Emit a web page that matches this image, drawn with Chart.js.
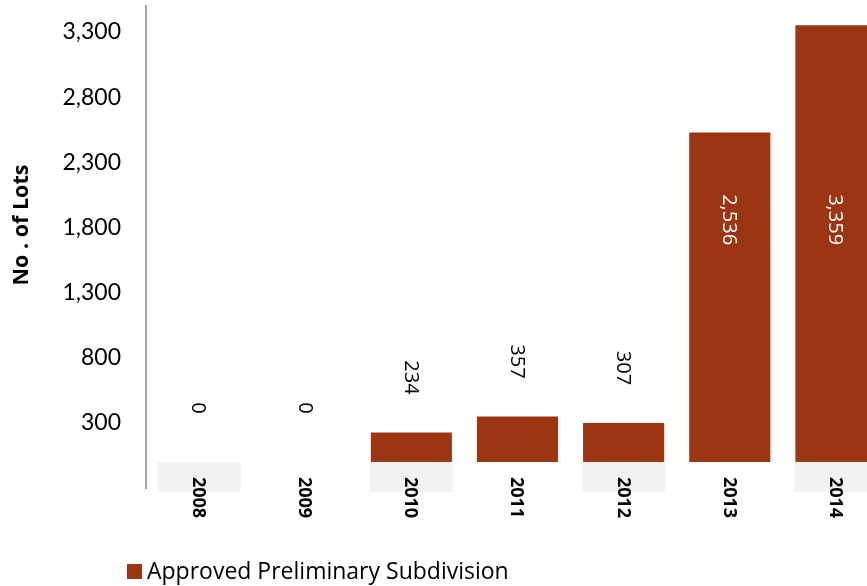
<!DOCTYPE html>
<html>
<head>
<meta charset="utf-8">
<script src="https://cdn.jsdelivr.net/npm/chart.js@4"></script>
<style>
  html, body { margin: 0; padding: 0; background: #fff; overflow: hidden; }
  #wrap { width: 867px; height: 586px; overflow: hidden; }
</style>
</head>
<body>
<div id="wrap"><canvas id="chart" width="889" height="586"></canvas></div>
<script>
const years = ['2008', '2009', '2010', '2011', '2012', '2013', '2014'];
const approvedLots = [0, 0, 234, 357, 307, 2536, 3359];
const yTickValues = [300, 800, 1300, 1800, 2300, 2800, 3300];

const seriesName = 'Approved Preliminary Subdivision';
const barColor = '#9c3512';
const tickFont = 'Lato, "Open Sans", sans-serif';
const textFont = '"Open Sans", Lato, sans-serif';

const fmt = v => v.toLocaleString('en-US');

// labels, shaded label cells, axis title and legend drawn on top of the chart
const decorations = {
  id: 'decorations',
  afterDraw(chart) {
    const ctx = chart.ctx;
    const x = chart.scales.x;
    const y = chart.scales.y;
    const meta = chart.getDatasetMeta(0);
    const base = y.getPixelForValue(0);

    ctx.save();
    // alternating grey cells behind the year labels
    meta.data.forEach((bar, i) => {
      if (i % 2 !== 0) return;
      const w = bar.width;
      ctx.fillStyle = '#f2f2f2';
      ctx.fillRect(bar.x - w / 2, base, w, 30);
    });

    // year labels, rotated clockwise
    ctx.font = 'bold 18px ' + textFont;
    ctx.fillStyle = '#000';
    ctx.textAlign = 'left';
    ctx.textBaseline = 'middle';
    years.forEach((yr, i) => {
      const cx = x.getPixelForValue(i);
      ctx.save();
      ctx.translate(cx, base + 15);
      ctx.rotate(Math.PI / 2);
      ctx.fillText(yr, 0, 1);
      ctx.restore();
    });

    // value labels, rotated clockwise
    ctx.font = '20px ' + textFont;
    ctx.textAlign = 'center';
    approvedLots.forEach((v, i) => {
      const bar = meta.data[i];
      let cy, color;
      if (v > 1000) {
        cy = y.getPixelForValue(1860);
        color = '#fff';
      } else {
        cy = bar.y - 54;
        color = '#000';
      }
      ctx.save();
      ctx.translate(bar.x, cy);
      ctx.rotate(Math.PI / 2);
      ctx.fillStyle = color;
      ctx.fillText(fmt(v), 0, 1);
      ctx.restore();
    });

    // y axis title
    ctx.save();
    ctx.font = 'bold 21.5px ' + textFont;
    ctx.fillStyle = '#000';
    ctx.translate(22, 225);
    ctx.rotate(-Math.PI / 2);
    ctx.fillText('No . of Lots', 0, 0);
    ctx.restore();

    // legend
    ctx.fillStyle = barColor;
    ctx.fillRect(127, 564, 15, 15);
    ctx.font = '23px ' + textFont;
    ctx.fillStyle = '#000';
    ctx.textAlign = 'left';
    ctx.fillText(chart.data.datasets[0].label, 147, 572);
    ctx.restore();
  }
};

new Chart(document.getElementById('chart'), {
  type: 'bar',
  data: {
    labels: years,
    datasets: [{
      label: seriesName,
      data: approvedLots,
      backgroundColor: barColor,
      borderColor: 'rgba(255,255,255,0.5)',
      borderWidth: 1,
      categoryPercentage: 1,
      barPercentage: 0.783
    }]
  },
  options: {
    responsive: false,
    animation: false,
    devicePixelRatio: 1,
    layout: { padding: { top: 6, bottom: 98, left: 0, right: 0 } },
    plugins: {
      legend: { display: false },
      tooltip: { enabled: false }
    },
    scales: {
      x: {
        display: false,
        offset: true
      },
      y: {
        min: -200,
        max: 3500,
        grid: { display: false, drawTicks: false },
        border: { display: true, color: '#a6a6a6', width: 2 },
        afterBuildTicks: axis => {
          axis.ticks = yTickValues.map(v => ({ value: v }));
        },
        afterFit: axis => {
          axis.width = 146;
          axis.paddingTop = 0;
          axis.paddingBottom = 0;
        },
        ticks: {
          padding: 25,
          color: '#000',
          font: { family: tickFont, size: 23 },
          callback: v => fmt(v)
        }
      }
    }
  },
  plugins: [decorations]
});
</script>
</body>
</html>
